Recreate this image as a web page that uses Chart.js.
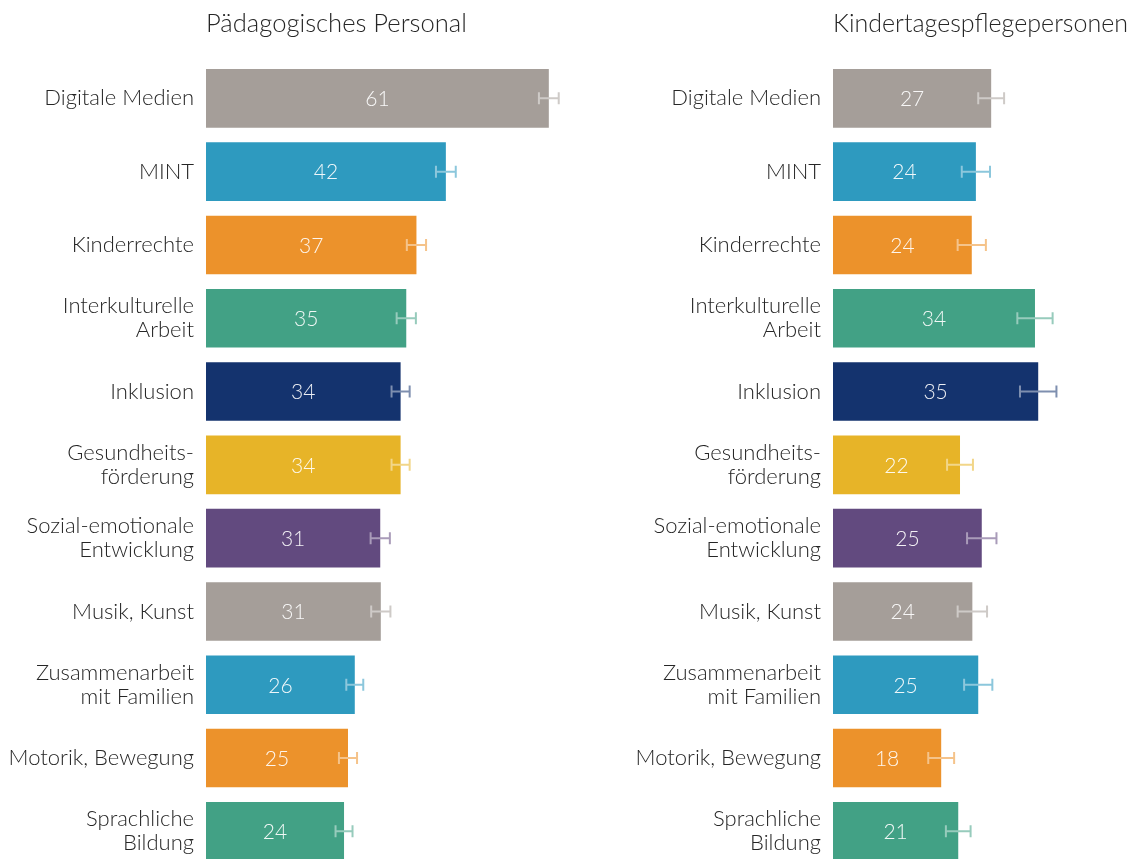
<!DOCTYPE html>
<html>
<head>
<meta charset="utf-8">
<script src="https://cdn.jsdelivr.net/npm/chart.js@4.4.1/dist/chart.umd.min.js"></script>
<style>
  html, body { margin: 0; padding: 0; background: #fff; overflow: hidden; width: 1129px; height: 859px; }
  #c1 { position: absolute; left: 0; top: 0; }
  #c2 { position: absolute; left: 620px; top: 0; }
</style>
</head>
<body>
<canvas id="c1" width="602" height="892" style="width:602px;height:892px"></canvas>
<canvas id="c2" width="509" height="892" style="width:509px;height:892px"></canvas>
<script>
// ---- data ----
const categories = [
  'Digitale Medien',
  'MINT',
  'Kinderrechte',
  ['Interkulturelle', 'Arbeit'],
  'Inklusion',
  ['Gesundheits-', 'förderung'],
  ['Sozial-emotionale', 'Entwicklung'],
  'Musik, Kunst',
  ['Zusammenarbeit', 'mit Familien'],
  'Motorik, Bewegung',
  ['Sprachliche', 'Bildung']
];
const panelTitles = ['Pädagogisches Personal', 'Kindertagespflegepersonen'];
const personalValues = [60.6, 42.4, 37.2, 35.4, 34.4, 34.4, 30.8, 30.9, 26.3, 25.1, 24.4];
const personalErrors = [1.75, 1.75, 1.7, 1.7, 1.6, 1.6, 1.7, 1.7, 1.5, 1.6, 1.5];
const pflegeValues = [26.9, 24.3, 23.6, 34.35, 34.9, 21.6, 25.3, 23.7, 24.7, 18.4, 21.3];
const pflegeErrors = [2.2, 2.4, 2.4, 3.0, 3.1, 2.2, 2.5, 2.5, 2.4, 2.2, 2.1];

// ---- styles ----
const barColors = ['#a59e99', '#2e9abf', '#ec922b', '#42a185', '#14336e', '#e7b428', '#624a7f', '#a59e99', '#2e9abf', '#ec922b', '#42a185'];
const FONT = 'Lato';

function tint(hex, f) {
  const n = parseInt(hex.slice(1), 16);
  const r = (n >> 16) & 255, g = (n >> 8) & 255, b = n & 255;
  const m = c => Math.round(c + (255 - c) * f);
  return 'rgb(' + m(r) + ',' + m(g) + ',' + m(b) + ')';
}

const extrasPlugin = {
  id: 'extras',
  afterDatasetsDraw(chart) {
    const ctx = chart.ctx;
    const xs = chart.scales.x;
    const ds = chart.data.datasets[0];
    const meta = chart.getDatasetMeta(0);
    ctx.save();
    // value labels
    ctx.font = '300 21px ' + FONT;
    ctx.fillStyle = 'rgba(255,255,255,0.92)';
    ctx.textAlign = 'center';
    ctx.textBaseline = 'middle';
    meta.data.forEach((bar, i) => {
      const v = ds.data[i];
      const x0 = xs.getPixelForValue(0), x1 = xs.getPixelForValue(v);
      ctx.fillText(String(Math.round(v)), (x0 + x1) / 2, bar.y + 1);
    });
    // error bars
    ctx.lineWidth = 2;
    meta.data.forEach((bar, i) => {
      const v = ds.data[i], e = ds.errors[i];
      const xl = xs.getPixelForValue(v - e), xr = xs.getPixelForValue(v + e);
      const y = bar.y;
      ctx.strokeStyle = tint(barColors[i], 0.45);
      ctx.beginPath();
      ctx.moveTo(xl, y); ctx.lineTo(xr, y);
      ctx.moveTo(xl, y - 6); ctx.lineTo(xl, y + 6);
      ctx.moveTo(xr, y - 6); ctx.lineTo(xr, y + 6);
      ctx.stroke();
    });
    // panel title
    ctx.font = '300 25.6px ' + FONT;
    ctx.fillStyle = '#262626';
    ctx.textAlign = 'left';
    ctx.textBaseline = 'alphabetic';
    const maxW = chart.width - chart.chartArea.left - 1;
    ctx.fillText(chart.options.plugins.panelTitle, chart.chartArea.left, 32, maxW);
    ctx.restore();
  }
};

function makeChart(id, values, errors, title, xMax, axisWidth, padRight) {
  return new Chart(document.getElementById(id), {
    type: 'bar',
    data: {
      labels: categories,
      datasets: [{
        data: values,
        errors: errors,
        backgroundColor: barColors,
        borderWidth: 0,
        barPercentage: 0.8,
        categoryPercentage: 1.0
      }]
    },
    options: {
      indexAxis: 'y',
      responsive: false,
      maintainAspectRatio: false,
      devicePixelRatio: 1,
      animation: false,
      layout: { padding: { top: 61.7, bottom: 0, left: 0, right: padRight } },
      plugins: {
        legend: { display: false },
        tooltip: { enabled: false },
        title: { display: false },
        panelTitle: title
      },
      scales: {
        x: { display: false, min: 0, max: xMax },
        y: {
          grid: { display: false, drawTicks: false },
          border: { display: false },
          ticks: {
            padding: 12,
            color: '#262626',
            font: { family: FONT, size: 22, weight: '300', lineHeight: '24px' }
          },
          afterFit(scale) { scale.width = axisWidth; }
        }
      }
    },
    plugins: [extrasPlugin]
  });
}

makeChart('c1', personalValues, personalErrors, panelTitles[0], 70, 206, 0);
makeChart('c2', pflegeValues, pflegeErrors, panelTitles[1], 50, 213, 2);
</script>
</body>
</html>
